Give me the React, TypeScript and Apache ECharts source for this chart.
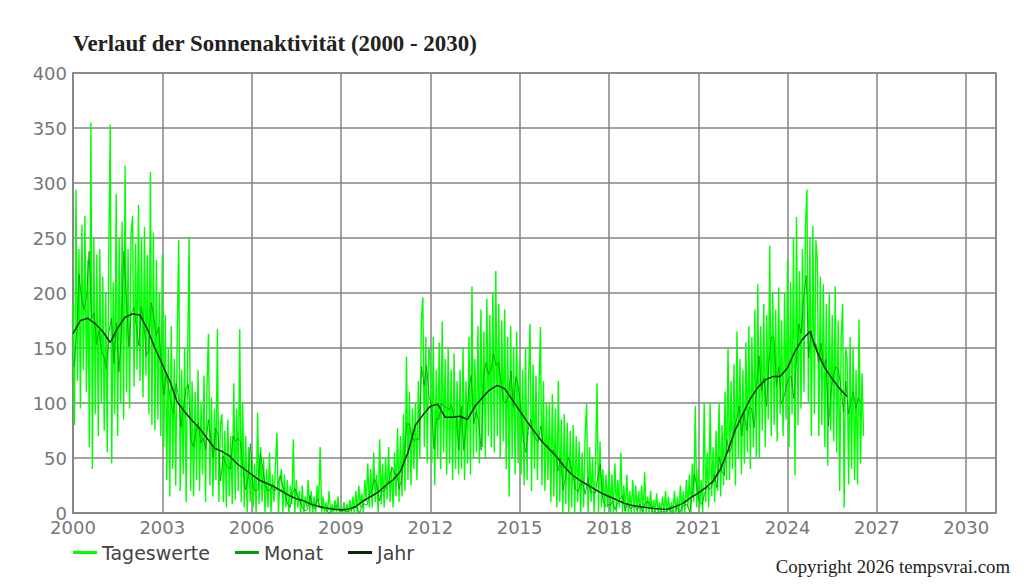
import React, { useEffect, useRef } from "react";
import * as echarts from "echarts";

const titleText = "Verlauf der Sonnenaktivität (2000 - 2030)";
const copyrightText = "Copyright 2026 tempsvrai.com";
const seriesNames = ["Tageswerte", "Monat", "Jahr"];

// x axis (years) and y axis ticks
const xMin = 2000;
const xMax = 2031;
const xInterval = 3;
const yMin = 0;
const yMax = 400;
const yInterval = 50;

// Tageswerte: one value every 0.05 year starting 2000.00 (20 per row/year)
const tagesStart = 2000;
const tagesStep = 0.05;
const tageswerte = [
  190, 80, 294, 120, 240, 95, 262, 130, 270, 110, 230, 60, 355, 40, 250, 90, 235, 70, 240, 100,
  215, 75, 200, 55, 230, 353, 45, 210, 90, 290, 70, 250, 100, 265, 85, 316, 110, 240, 95, 255,
  270, 115, 245, 130, 280, 120, 250, 105, 260, 125, 235, 90, 310, 80, 255, 75, 230, 85, 200, 70,
  235, 60, 180, 30, 150, 15, 170, 40, 140, 25, 160, 248, 20, 130, 35, 150, 10, 140, 251, 20,
  120, 15, 110, 30, 130, 20, 100, 35, 125, 10, 115, 163, 25, 105, 15, 95, 30, 167, 10, 80,
  90, 10, 75, 5, 85, 15, 70, 8, 118, 12, 95, 20, 167, 10, 100, 5, 70, 0, 60, 10,
  55, 5, 45, 0, 91, 8, 60, 10, 50, 0, 40, 5, 55, 0, 35, 10, 45, 73, 0, 30,
  40, 0, 35, 5, 30, 0, 25, 8, 67, 0, 30, 5, 20, 0, 25, 0, 15, 5, 30, 0,
  20, 0, 15, 0, 25, 5, 60, 0, 15, 0, 10, 0, 20, 0, 8, 0, 12, 0, 15, 0,
  5, 0, 10, 0, 8, 0, 12, 0, 15, 0, 20, 0, 25, 5, 18, 0, 30, 10, 45, 5,
  40, 5, 55, 10, 35, 0, 67, 8, 45, 5, 50, 12, 60, 10, 40, 5, 55, 15, 77, 10,
  70, 15, 90, 20, 142, 30, 110, 25, 95, 40, 100, 30, 120, 50, 175, 196, 60, 160, 45, 150,
  140, 45, 160, 25, 130, 50, 155, 40, 174, 55, 140, 35, 150, 45, 130, 30, 145, 40, 120, 35,
  130, 40, 150, 30, 120, 45, 160, 35, 206, 50, 140, 55, 170, 45, 185, 60, 165, 50, 195, 70,
  180, 60, 200, 55, 220, 70, 190, 50, 175, 65, 185, 40, 160, 15, 170, 50, 150, 35, 165, 45,
  140, 35, 130, 25, 150, 30, 120, 172, 20, 135, 40, 125, 30, 110, 169, 25, 120, 20, 100, 30,
  100, 10, 108, 15, 95, 5, 120, 10, 85, 0, 90, 8, 82, 0, 75, 5, 80, 0, 70, 10,
  65, 0, 55, 5, 70, 99, 0, 60, 10, 50, 0, 45, 118, 0, 65, 5, 40, 0, 35, 5,
  40, 0, 35, 0, 45, 0, 30, 5, 55, 0, 25, 0, 35, 0, 20, 0, 30, 0, 25, 0,
  20, 0, 25, 0, 37, 0, 15, 0, 20, 0, 12, 0, 18, 0, 10, 0, 15, 0, 20, 0,
  15, 0, 10, 0, 20, 0, 15, 0, 25, 0, 20, 0, 30, 5, 35, 0, 45, 10, 97, 5,
  40, 5, 30, 0, 100, 10, 55, 5, 100, 15, 60, 10, 75, 20, 100, 15, 80, 25, 110, 30,
  150, 30, 120, 40, 135, 25, 165, 50, 140, 35, 130, 45, 155, 55, 170, 40, 160, 60, 185, 50,
  208, 50, 170, 75, 190, 60, 180, 85, 243, 70, 200, 80, 185, 65, 205, 90, 175, 70, 200, 85,
  230, 60, 210, 90, 250, 34, 269, 80, 220, 95, 240, 110, 260, 294, 100, 250, 70, 261, 90, 248,
  230, 70, 215, 80, 208, 60, 190, 43, 200, 75, 180, 65, 206, 55, 175, 20, 160, 190, 5, 150,
  140, 26, 160, 40, 150, 30, 130, 26, 176, 45, 127, 70,
];

// Monat: monthly means, one per month from January 2000 (12 per row/year)
const monatStart = 2000 + 0.5 / 12;
const monatStep = 1 / 12;
const monat = [
  133, 165, 217, 192, 185, 197, 238, 177, 182, 153, 166, 147,
  142, 131, 165, 177, 136, 173, 128, 162, 238, 195, 151, 182,
  187, 171, 152, 187, 175, 143, 148, 191, 180, 161, 169, 141,
  107, 125, 115, 99, 90, 118, 106, 78, 94, 113, 117, 67,
  60, 74, 82, 64, 68, 58, 85, 68, 50, 77, 71, 29,
  52, 45, 41, 40, 70, 65, 68, 65, 40, 21, 31, 63,
  24, 20, 21, 55, 40, 25, 20, 21, 26, 20, 25, 34,
  25, 17, 8, 5, 18, 22, 15, 11, 5, 2, 3, 16,
  6, 4, 13, 6, 4, 5, 1, 0, 2, 5, 7, 2,
  2, 2, 1, 2, 4, 5, 5, 0, 7, 8, 7, 17,
  21, 31, 25, 11, 20, 20, 26, 30, 42, 36, 35, 22,
  32, 52, 81, 81, 70, 66, 67, 67, 133, 116, 134, 106,
  98, 58, 86, 85, 100, 97, 96, 94, 98, 88, 87, 57,
  97, 57, 80, 112, 125, 81, 92, 84, 57, 124, 137, 126,
  130, 145, 134, 137, 119, 102, 100, 107, 129, 96, 124, 115,
  94, 67, 55, 76, 85, 72, 67, 65, 79, 63, 62, 61,
  56, 57, 55, 38, 50, 21, 32, 51, 44, 34, 22, 19,
  27, 26, 17, 32, 19, 19, 18, 33, 44, 13, 6, 8,
  7, 11, 3, 9, 13, 16, 2, 9, 4, 5, 6, 3,
  8, 1, 9, 10, 9, 1, 1, 0, 1, 1, 1, 2,
  6, 0, 2, 5, 0, 6, 7, 8, 1, 15, 35, 23,
  10, 8, 17, 25, 21, 25, 35, 23, 51, 38, 34, 67,
  55, 60, 78, 85, 97, 70, 91, 75, 96, 95, 77, 113,
  143, 111, 123, 97, 137, 160, 160, 115, 133, 99, 105, 115,
  123, 124, 104, 136, 172, 163, 196, 216, 141, 166, 152, 154,
  137, 154, 134, 140, 79, 111, 126, 133, 130, 114, 92, 120,
  90, 100, 110, 95, 105, 100,
];

// Jahr: running yearly mean, one value every quarter year from 2000.00 (4 per row/year)
const jahrStart = 2000;
const jahrStep = 0.25;
const jahr = [
  163, 175, 177, 172,
  165, 155, 168, 178,
  181, 180, 167, 150,
  135, 120, 101, 92,
  84, 77, 68, 59,
  56, 52, 45, 40,
  35, 30, 27, 24,
  20, 16, 13, 11,
  8, 6, 4.5, 3.5,
  3, 3.5, 6, 11,
  15, 19, 25, 30,
  38, 55, 80, 89,
  97, 99, 87, 87,
  88, 85, 97, 105,
  112, 116, 113, 103,
  93, 83, 74, 65,
  58, 51, 42, 35,
  30, 26, 22, 18,
  15, 12, 9, 7,
  6, 5, 4, 3.6,
  3.5, 6, 9, 14,
  18, 23, 29, 40,
  57, 76, 90, 104,
  114, 121, 124, 124,
  132, 147, 158, 165,
  146, 132, 122, 113,
  106,
];

const toPairs = (values: number[], start: number, step: number) =>
  values.map((v, i) => [start + i * step, v]);

const gridColor = "#858585";
const labelFont = "DejaVu Sans";

export default function App() {
  const ref = useRef<HTMLDivElement>(null);
  useEffect(() => {
    if (!ref.current) return;
    const chart = echarts.init(ref.current, null, { renderer: "svg" });
    chart.setOption({
      animation: false,
      backgroundColor: "#ffffff",
      title: [
        {
          text: titleText,
          left: 73,
          top: 32,
          padding: 0,
          textStyle: {
            fontFamily: "Liberation Serif",
            fontSize: 22.9,
            fontWeight: "bold",
            color: "#222222",
          },
        },
        {
          text: copyrightText,
          right: 14,
          top: 557,
          padding: 0,
          textStyle: {
            fontFamily: "Liberation Serif",
            fontSize: 18.8,
            fontWeight: "normal",
            color: "#222222",
          },
        },
      ],
      legend: {
        data: seriesNames,
        left: 73,
        top: 543,
        padding: 0,
        icon: "rect",
        itemWidth: 24,
        itemHeight: 3,
        itemGap: 25,
        textStyle: { fontFamily: labelFont, fontSize: 19, color: "#444444" },
      },
      grid: {
        left: 73,
        right: 28,
        top: 73,
        bottom: 72,
        show: true,
        borderColor: gridColor,
        borderWidth: 1.5,
      },
      xAxis: {
        type: "value",
        min: xMin,
        max: xMax,
        interval: xInterval,
        axisLine: { show: true, lineStyle: { color: gridColor, width: 1.5 } },
        axisTick: { show: false },
        splitLine: { show: true, lineStyle: { color: gridColor, width: 1.5 } },
        axisLabel: {
          showMaxLabel: false,
          margin: 5,
          fontFamily: labelFont,
          fontSize: 18,
          color: "#777777",
          formatter: (v: number) => String(v),
        },
      },
      yAxis: {
        type: "value",
        min: yMin,
        max: yMax,
        interval: yInterval,
        axisLine: { show: true, lineStyle: { color: gridColor, width: 1.5 } },
        axisTick: { show: false },
        splitLine: { show: true, lineStyle: { color: gridColor, width: 1.5 } },
        axisLabel: {
          margin: 6,
          fontFamily: labelFont,
          fontSize: 18,
          color: "#777777",
          formatter: (v: number) => String(v),
        },
      },
      series: [
        {
          name: seriesNames[0],
          type: "line",
          data: toPairs(tageswerte, tagesStart, tagesStep),
          showSymbol: false,
          symbol: "none",
          color: "#00ff00",
          lineStyle: { color: "#00ff00", width: 1.4 },
        },
        {
          name: seriesNames[1],
          type: "line",
          data: toPairs(monat, monatStart, monatStep),
          showSymbol: false,
          symbol: "none",
          color: "#00a000",
          lineStyle: { color: "#00a000", width: 1, opacity: 0.85 },
        },
        {
          name: seriesNames[2],
          type: "line",
          data: toPairs(jahr, jahrStart, jahrStep),
          showSymbol: false,
          symbol: "none",
          color: "#0a2a0a",
          lineStyle: { color: "#0a2a0a", width: 1.5 },
        },
      ],
    });
    return () => chart.dispose();
  }, []);
  return (
    <div
      ref={ref}
      style={{ position: "absolute", left: 0, top: 0, width: 1024, height: 585, background: "#fff" }}
    />
  );
}
